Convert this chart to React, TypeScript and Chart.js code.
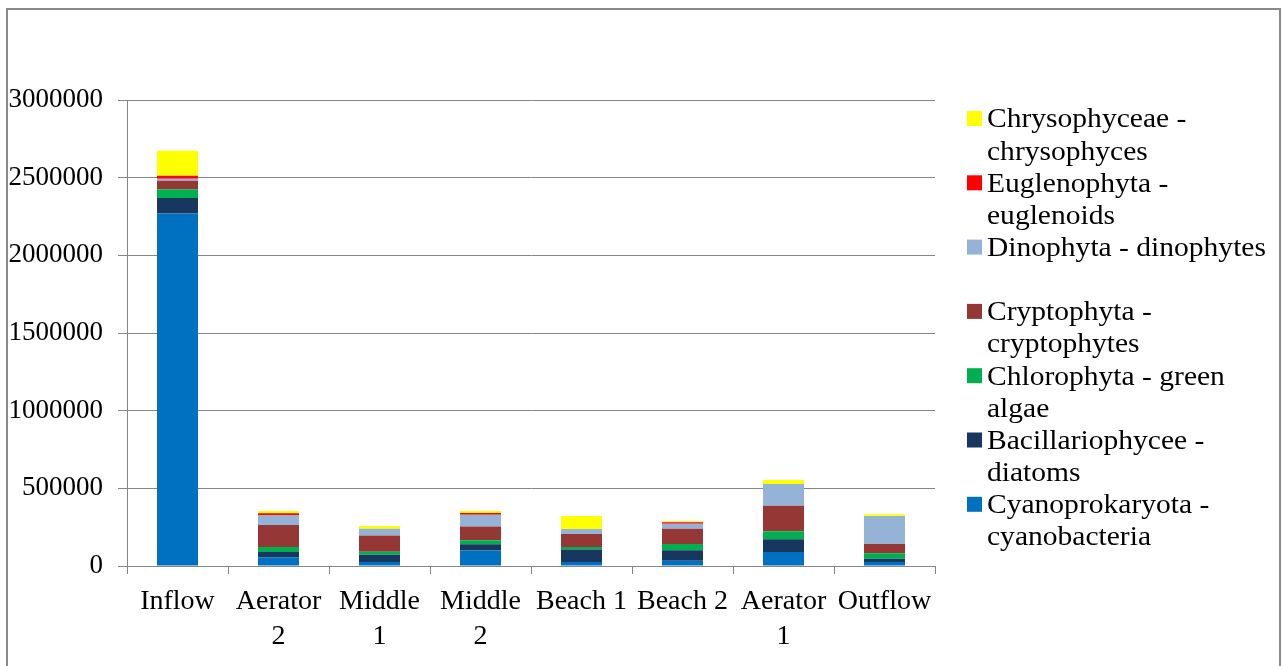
import React, { useEffect, useRef } from "react";
import { Chart, registerables } from "chart.js";

Chart.register(...registerables);

const categories: string[][] = [
  ["Inflow"],
  ["Aerator", "2"],
  ["Middle", "1"],
  ["Middle", "2"],
  ["Beach 1"],
  ["Beach 2"],
  ["Aerator", "1"],
  ["Outflow"],
];

const cyanoValues = [2270000, 56000, 26000, 99000, 26000, 34000, 90000, 26000];
const diatomValues = [99000, 34000, 47000, 41000, 81000, 67000, 82000, 21000];
const greenValues = [56000, 32000, 19000, 25000, 15000, 41000, 51000, 35000];
const cryptoValues = [55000, 142000, 105000, 90000, 84000, 98000, 165000, 60000];
const dinoValues = [13000, 64000, 43000, 75000, 32000, 32000, 140000, 180000];
const euglenaValues = [19000, 11000, 0, 11000, 0, 9000, 0, 0];
const chrysoValues = [161000, 15000, 17000, 13000, 84000, 7000, 26000, 11000];

const seriesLabels = [
  "Cyanoprokaryota - cyanobacteria",
  "Bacillariophycee - diatoms",
  "Chlorophyta - green algae",
  "Cryptophyta - cryptophytes",
  "Dinophyta - dinophytes",
  "Euglenophyta - euglenoids",
  "Chrysophyceae - chrysophyces",
];

// legend text lines, top to bottom (as wrapped in the original)
const legendLines: string[][] = [
  ["Chrysophyceae -", "chrysophyces"],
  ["Euglenophyta -", "euglenoids"],
  ["Dinophyta - dinophytes", ""],
  ["Cryptophyta -", "cryptophytes"],
  ["Chlorophyta - green", "algae"],
  ["Bacillariophycee -", "diatoms"],
  ["Cyanoprokaryota -", "cyanobacteria"],
];

const colors = ["#0070C0", "#17375E", "#00B050", "#953735", "#95B3D7", "#FF0000", "#FFFF00"];

const yMax = 3000000;
const yStep = 500000;

const FONT = "'Liberation Serif', 'Times New Roman', serif";

export default function App() {
  const ref = useRef<HTMLCanvasElement | null>(null);

  useEffect(() => {
    document.body.style.margin = "0";
    const canvas = ref.current;
    if (!canvas) return;
    const values = [cyanoValues, diatomValues, greenValues, cryptoValues, dinoValues, euglenaValues, chrysoValues];

    const framePlugin = {
      id: "frame",
      beforeDraw(chart: any) {
        const ctx = chart.ctx;
        ctx.save();
        ctx.fillStyle = "#ffffff";
        ctx.fillRect(0, 0, chart.width, chart.height);
        ctx.strokeStyle = "#8a8a8a";
        ctx.lineWidth = 2;
        ctx.beginPath();
        ctx.moveTo(7, 700);
        ctx.lineTo(7, 9);
        ctx.lineTo(1280, 9);
        ctx.lineTo(1280, 700);
        ctx.stroke();
        ctx.restore();
      },
      afterDraw(chart: any) {
        const ctx = chart.ctx;
        ctx.save();
        ctx.font = `28px ${FONT}`;
        ctx.textBaseline = "middle";
        ctx.fillStyle = "#000";
        let y = 119;
        const lh = 32.15;
        const n = legendLines.length;
        legendLines.forEach((lines, i) => {
          const dsIndex = n - 1 - i;
          ctx.fillStyle = colors[dsIndex];
          ctx.fillRect(967, y - 8, 15, 15);
          ctx.fillStyle = "#000";
          lines.forEach((ln) => {
            if (ln) {
              ctx.save();
              ctx.translate(987, y + 1);
              ctx.scale(1.055, 1);
              ctx.fillText(ln, 0, 0);
              ctx.restore();
            }
            y += lh;
          });
        });
        ctx.restore();
      },
    };

    const chart = new Chart(canvas, {
      type: "bar",
      data: {
        labels: categories,
        datasets: values.map((v, i) => ({
          label: seriesLabels[i],
          data: v,
          backgroundColor: colors[i],
          borderWidth: 0,
          barPercentage: 0.406,
          categoryPercentage: 1,
        })),
      },
      options: {
        animation: false,
        responsive: false,
        maintainAspectRatio: false,
        layout: { padding: { top: 100, right: 347, left: 0, bottom: 0 } },
        plugins: {
          legend: { display: false },
          tooltip: { enabled: false },
          title: { display: false },
        },
        scales: {
          x: {
            stacked: true,
            afterFit: (s: any) => {
              s.height = 100;
            },
            grid: {
              offset: true,
              drawOnChartArea: false,
              drawTicks: true,
              tickLength: 8,
              color: "#868686",
            },
            border: { color: "#868686", width: 1 },
            ticks: {
              color: "#000",
              font: { family: FONT, size: 28, lineHeight: 1.22 },
              padding: 11,
              maxRotation: 0,
              autoSkip: false,
            },
          },
          y: {
            stacked: true,
            min: 0,
            max: yMax,
            afterFit: (s: any) => {
              s.width = 127;
            },
            grid: {
              color: "#868686",
              drawTicks: true,
              tickLength: 9,
            },
            border: { color: "#868686", width: 1 },
            ticks: {
              stepSize: yStep,
              color: "#000",
              padding: 15,
              font: { family: FONT, size: 27 },
              callback: (v: any) => String(v),
            },
          },
        },
      },
      plugins: [framePlugin],
    });
    return () => chart.destroy();
  }, []);

  return (
    <div style={{ width: 1282, height: 666 }}>
      <canvas ref={ref} width={1282} height={666} style={{ display: "block" }} />
    </div>
  );
}
